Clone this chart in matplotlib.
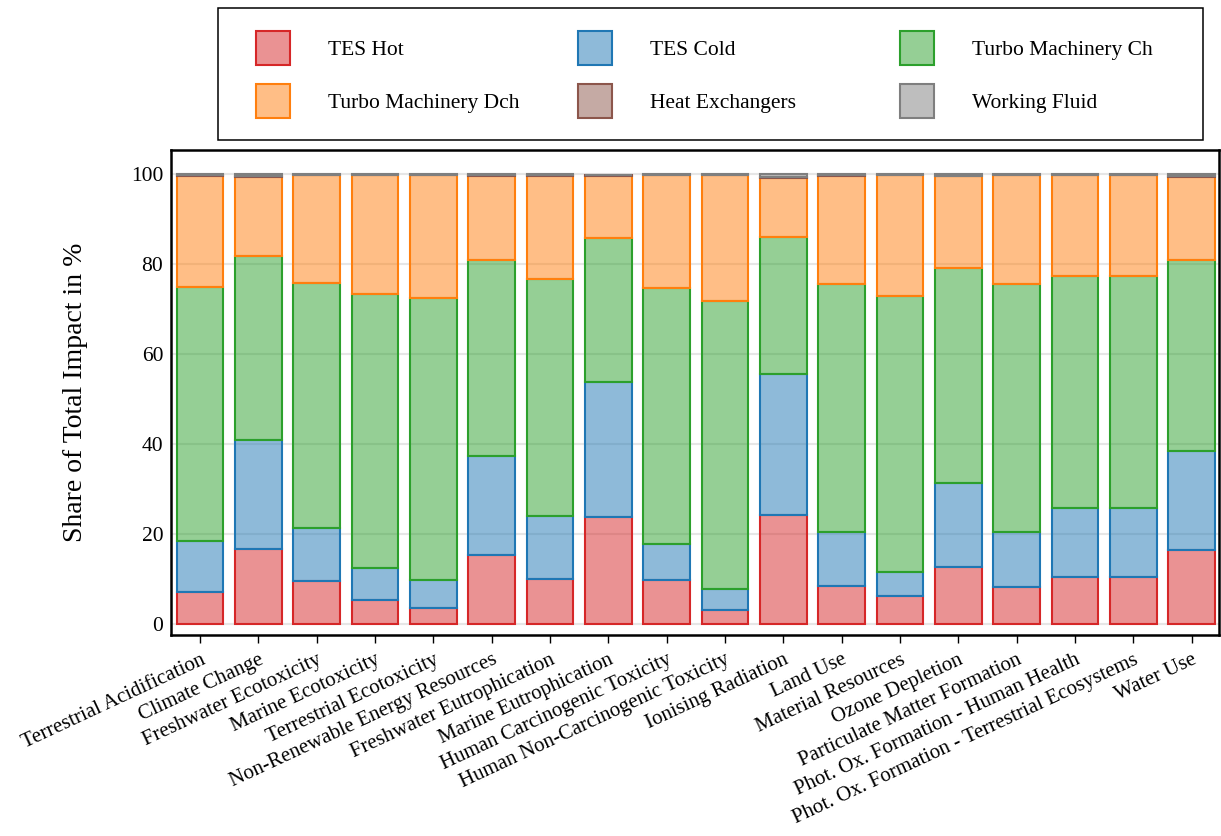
import numpy as np
import matplotlib
matplotlib.use("Agg")
import matplotlib.pyplot as plt
from matplotlib.colors import to_rgba
from matplotlib.patches import Rectangle

plt.rcParams['font.family'] = 'serif'
plt.rcParams['font.serif'] = ['Liberation Serif', 'DejaVu Serif']

categories = [
    'Terrestrial Acidification', 'Climate Change', 'Freshwater Ecotoxicity',
    'Marine Ecotoxicity', 'Terrestrial Ecotoxicity', 'Non-Renewable Energy Resources',
    'Freshwater Eutrophication', 'Marine Eutrophication', 'Human Carcinogenic Toxicity',
    'Human Non-Carcinogenic Toxicity', 'Ionising Radiation', 'Land Use',
    'Material Resources', 'Ozone Depletion', 'Particulate Matter Formation',
    'Phot. Ox. Formation - Human Health', 'Phot. Ox. Formation - Terrestrial Ecosystems',
    'Water Use',
]

# share of total impact per component, in %
tes_hot = [7.2, 16.7, 9.7, 5.4, 3.7, 15.4, 10.0, 23.8, 9.9, 3.2, 24.3, 8.4, 6.3, 12.8, 8.2, 10.4, 10.4, 16.4]
tes_cold = [11.3, 24.3, 11.6, 7.1, 6.2, 22.1, 14.1, 30.1, 7.9, 4.7, 31.4, 12.2, 5.3, 18.7, 12.4, 15.5, 15.5, 22.0]
turbo_ch = [56.5, 40.9, 54.6, 60.8, 62.7, 43.5, 52.7, 31.9, 57.0, 63.9, 30.4, 55.1, 61.3, 47.6, 55.1, 51.5, 51.5, 42.6]
turbo_dch = [24.7, 17.6, 23.9, 26.5, 27.2, 18.7, 22.9, 13.9, 25.0, 28.0, 13.1, 24.0, 26.9, 20.5, 24.1, 22.4, 22.4, 18.4]
heat_exchangers = [0.1, 0.2, 0.1, 0.1, 0.1, 0.1, 0.1, 0.1, 0.1, 0.1, 0.3, 0.1, 0.1, 0.1, 0.1, 0.1, 0.1, 0.2]
working_fluid = [0.2, 0.3, 0.1, 0.1, 0.1, 0.2, 0.2, 0.1, 0.1, 0.1, 0.5, 0.2, 0.1, 0.3, 0.1, 0.1, 0.1, 0.4]

components = ['TES Hot', 'TES Cold', 'Turbo Machinery Ch', 'Turbo Machinery Dch',
              'Heat Exchangers', 'Working Fluid']
series = [tes_hot, tes_cold, turbo_ch, turbo_dch, heat_exchangers, working_fluid]
colors = ['tab:red', 'tab:blue', 'tab:green', 'tab:orange', 'tab:brown', 'tab:gray']

fig = plt.figure(figsize=(12.21, 8.36), dpi=100)
ax = fig.add_axes([0.1400, 0.2404, 0.8583, 0.5801])

x = np.arange(len(categories))
bottom = np.zeros(len(categories))
bars = []
for name, vals, c in zip(components, series, colors):
    vals = np.array(vals)
    b = ax.bar(x, vals, width=0.8, bottom=bottom, label=name,
               facecolor=to_rgba(c, 0.5), edgecolor=c, linewidth=1.5)
    bars.append(b)
    bottom += vals

ax.set_xlim(-0.5, 17.47)
ax.set_ylim(-2.4, 105.4)
ax.set_yticks([0, 20, 40, 60, 80, 100])
ax.yaxis.grid(True, color='#e6e6e6', linewidth=1.5)
ax.set_axisbelow(True)

ax.set_xticks(x)
ax.set_xticklabels(categories, rotation=25, ha='right', rotation_mode='anchor', fontsize=15)
ax.tick_params(axis='x', length=6, width=1, direction='out', pad=5)
ax.tick_params(axis='y', length=0, labelsize=15.5, pad=5.5)
ax.set_ylabel('Share of Total Impact in %', fontsize=20, labelpad=31)

for s in ax.spines.values():
    s.set_linewidth(1.8)

# legend: three columns, each its own legend so the columns sit on a fixed pitch
top = 1 - 31 / 836
col_x = [256, 578, 900]
for col in range(3):
    fig.legend([bars[col], bars[col + 3]], [components[col], components[col + 3]],
               loc='upper left', bbox_to_anchor=(col_x[col] / 1221, top),
               frameon=False, fontsize=15.5, borderpad=0, borderaxespad=0,
               handlelength=1.58, handleheight=2.055, handletextpad=1.77,
               labelspacing=0.88)
fig.add_artist(Rectangle((218 / 1221, 1 - 140 / 836), (1203 - 218) / 1221, 132 / 836,
                         transform=fig.transFigure, fill=False, edgecolor='black', linewidth=1.1))

fig.savefig('out.png', dpi=100)
